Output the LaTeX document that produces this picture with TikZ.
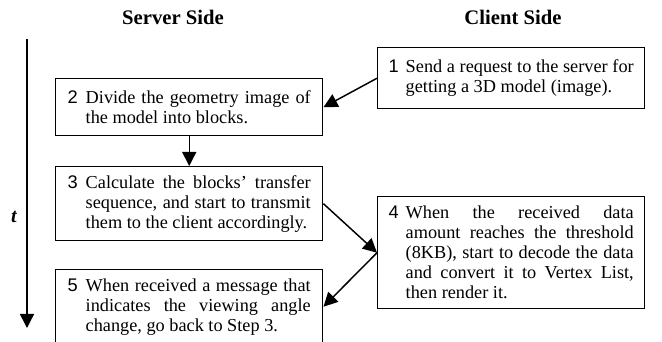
\documentclass[tikz,border=0pt]{standalone}
\usepackage{fontspec}
\setmainfont{Liberation Serif}
\setsansfont{Liberation Sans}
\usetikzlibrary{arrows.meta}
\newcommand\stepbody[4]{\makebox[#1][l]{\sffamily #3}\parbox[t]{#2}{#4}}
\begin{document}
\begin{tikzpicture}[x=0.75pt,y=-0.75pt,
  box/.style={draw, line width=1.1pt, inner sep=0pt, minimum width=200.25pt, anchor=north west,
    font=\fontsize{13.7}{15}\selectfont},
  arr/.style={line width=1.1pt, -{Triangle[length=10.5pt,width=10.5pt]}},
  head/.style={font=\fontsize{15.5}{18}\selectfont\bfseries}]
\useasboundingbox (0,0) rectangle (662,342);
\node[head] (hs) at (173,17) {Server Side};
\node[head] (hc) at (513,17) {Client Side};
\node[box, minimum height=45.75pt] (b1) at (377,47)
  {\stepbody{12.75pt}{171pt}{1}{Send a request to the server for\linebreak getting a 3D model (image).}};
\node[box, minimum height=42.75pt] (b2) at (55,78)
  {\stepbody{13.5pt}{168.75pt}{2}{Divide the geometry image of\linebreak the model into blocks.}};
\node[box, minimum height=55.5pt] (b3) at (55,166)
  {\stepbody{13.5pt}{168.75pt}{3}{Calculate the blocks' transfer\linebreak sequence, and start to transmit\linebreak them to the client accordingly.}};
\node[box, minimum height=84pt] (b4) at (377,196)
  {\stepbody{12.75pt}{171pt}{4}{When the received data\linebreak amount reaches the threshold\linebreak (8KB), start to decode the data\linebreak and convert it to Vertex List,\linebreak then render it.}};
\node[box, minimum height=55.5pt] (b5) at (55,269)
  {\stepbody{13.5pt}{168.75pt}{5}{When received a message that\linebreak indicates the viewing angle\linebreak change, go back to Step 3.}};
\coordinate (ttop) at (27,39);
\coordinate (tbot) at (27,328);
\draw[arr] (ttop) -- (tbot);
\node[font=\fontsize{15}{18}\selectfont\bfseries\itshape] (tl) at (14,217) {t};
\draw[arr] (b1.west) -- (b2.east);
\draw[arr] (b2.south) -- (b3.north);
\draw[arr] (b3.east) -- (b4.west);
\draw[arr] (b4.west) -- (b5.east);
\end{tikzpicture}
\end{document}
